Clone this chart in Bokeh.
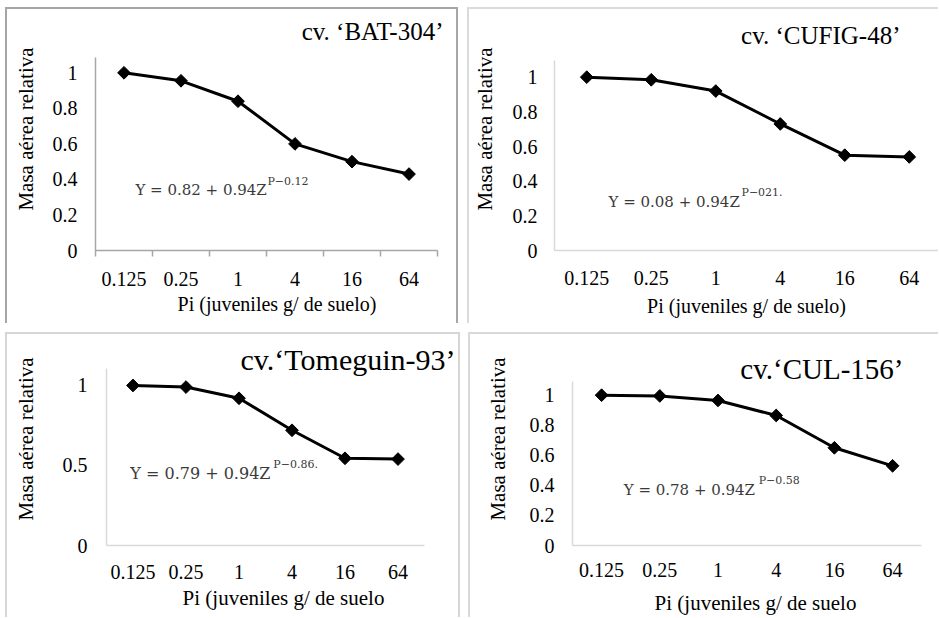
import math
from bokeh.plotting import figure
from bokeh.models import FixedTicker, NumeralTickFormatter, Label, Range1d
from bokeh.layouts import row, column
from bokeh.embed import file_html
from bokeh.resources import INLINE

# ---------------- data ----------------
categories = ["0.125", "0.25", "1", "4", "16", "64"]

bat_304 = [1.0, 0.955, 0.84, 0.60, 0.50, 0.43]
cufig_48 = [1.0, 0.985, 0.92, 0.73, 0.55, 0.54]
tomeguin_93 = [1.0, 0.99, 0.92, 0.72, 0.545, 0.54]
cul_156 = [1.0, 0.995, 0.965, 0.865, 0.65, 0.53]

titles = ["cv. \u2018BAT-304\u2019", "cv. \u2018CUFIG-48\u2019",
          "cv.\u2018Tomeguin-93\u2019", "cv.\u2018CUL-156\u2019"]
eq_main = ["Y = 0.82 + 0.94Z", "Y = 0.08 + 0.94Z",
           "Y = 0.79 + 0.94Z", "Y = 0.78 + 0.94Z"]
eq_sup = ["P\u22120.12", "P\u2212021.", "P\u22120.86.", "P\u22120.58"]
x_titles = ["Pi (juveniles g/ de suelo)", "Pi (juveniles g/ de suelo)",
            "Pi (juveniles g/ de suelo", "Pi (juveniles g/ de suelo"]
y_title = "Masa a\u00e9rea relativa"
yticks_fine = [0, 0.2, 0.4, 0.6, 0.8, 1]
yticks_coarse = [0, 0.5, 1]

SERIF = "Liberation Serif"
EQ_FONT = "DejaVu Serif"

xs = [i + 0.5 for i in range(len(categories))]
bounds = list(range(len(categories) + 1))


def shadow(color, sides):
    parts = []
    if "l" in sides:
        parts.append(f"inset 2px 0 0 {color}")
    if "t" in sides:
        parts.append(f"inset 0 2px 0 {color}")
    if "r" in sides:
        parts.append(f"inset -2px 0 0 {color}")
    return ", ".join(parts)


def panel(values, title, main, sup, xtitle, yticks, c):
    p = figure(width=c["w"], height=c["h"], output_backend="svg",
               toolbar_location=None, title=None,
               x_range=Range1d(0, c["xend"]), y_range=Range1d(0, c["yend"]),
               min_border_left=c["mbl"], min_border_right=0,
               min_border_top=0, min_border_bottom=c["mbb"],
               styles={"box-shadow": shadow(c["border"], c["sides"])})
    p.border_fill_color = None
    p.background_fill_color = None
    p.outline_line_color = None
    p.xgrid.visible = False
    p.ygrid.visible = False

    for ax in (p.xaxis[0], p.yaxis[0]):
        ax.axis_line_color = c["axis"]
        ax.axis_line_width = 1.5
        ax.major_tick_out = 0
        ax.major_tick_in = 0
        ax.minor_tick_in = 0
        ax.minor_tick_out = 0
        ax.major_label_text_font = SERIF
        ax.major_label_text_font_size = "20px"
        ax.major_label_text_color = "black"
        ax.axis_label_text_font = SERIF
        ax.axis_label_text_font_style = "normal"
        ax.axis_label_text_color = "black"

    xa = p.xaxis[0]
    xa.bounds = (0, len(categories))
    xa.ticker = FixedTicker(ticks=xs, minor_ticks=bounds if c["minor"] else [])
    xa.major_label_overrides = {x: lab for x, lab in zip(xs, categories)}
    if c["minor"]:
        xa.minor_tick_out = 6
        xa.minor_tick_line_color = c["axis"]
        xa.minor_tick_line_width = 1.5
    xa.major_label_standoff = c["xls"]
    xa.axis_label = xtitle
    xa.axis_label_text_font_size = c["xtf"]
    xa.axis_label_standoff = c["xts"]

    ya = p.yaxis[0]
    ya.bounds = (0, c["ytop"])
    ya.ticker = FixedTicker(ticks=yticks, minor_ticks=[])
    ya.formatter = NumeralTickFormatter(format="0.[0]")
    ya.major_label_standoff = c["yls"]
    ya.axis_label = y_title
    ya.axis_label_text_font_size = c["ytf"]
    ya.axis_label_standoff = c["yts"]

    p.line(xs, values, line_color="black", line_width=3)
    p.scatter(xs, values, marker="square", angle=math.pi / 4, size=9,
              fill_color="black", line_color="black")

    p.add_layout(Label(x=c["tx"], y=c["ty"], text=title, text_align="right",
                       text_baseline="middle", text_font=SERIF,
                       text_font_size=c["tf"], text_color="black"))
    p.add_layout(Label(x=c["ex"], y=c["ey"], text=main, text_align="left",
                       text_baseline="middle", text_font=EQ_FONT,
                       text_font_size=c["ef"], text_color="#3a3a3a"))
    p.add_layout(Label(x=c["ex"], y=c["ey"], x_offset=c["eo"], y_offset=9,
                       text=sup, text_align="left", text_baseline="middle",
                       text_font=EQ_FONT, text_font_size="11px",
                       text_color="#3a3a3a"))
    return p


cfg1 = dict(w=453, h=316, mbl=90, mbb=73, xend=6.368, yend=1.3675, ytop=1.086,
            border="#a6a6a6", sides="ltr", axis="#a6a6a6", minor=True,
            xls=15, xts=4, xtf="20px", yls=18, yts=12, ytf="21px",
            tx=6.105, ty=1.235, tf="25px", ex=0.70, ey=0.338, ef="15px", eo=132)
cfg2 = dict(w=471, h=316, mbl=87, mbb=72, xend=5.953, yend=1.402, ytop=1.098,
            border="#dadada", sides="lt", axis="#d9d9d9", minor=False,
            xls=20, xts=7, xtf="20px", yls=17, yts=13, ytf="21px",
            tx=5.364, ty=1.238, tf="25px", ex=0.837, ey=0.282, ef="15px", eo=133)
cfg3 = dict(w=455, h=285, mbl=101, mbb=72, xend=6.679, yend=1.331, ytop=1.106,
            border="#d6d6d6", sides="ltr", axis="#d9d9d9", minor=False,
            xls=19, xts=4, xtf="21px", yls=19, yts=22, ytf="21px",
            tx=6.585, ty=1.1625, tf="30px", ex=0.45, ey=0.45, ef="16px", eo=143)
cfg4 = dict(w=470, h=285, mbl=104, mbb=71, xend=6.289, yend=1.417, ytop=1.093,
            border="#d9d9d9", sides="lt", axis="#d9d9d9", minor=False,
            xls=17, xts=11, xtf="21px", yls=18, yts=17, ytf="21px",
            tx=5.687, ty=1.175, tf="29px", ex=0.88, ey=0.371, ef="15px", eo=135)

p1 = panel(bat_304, titles[0], eq_main[0], eq_sup[0], x_titles[0], yticks_fine, cfg1)
p2 = panel(cufig_48, titles[1], eq_main[1], eq_sup[1], x_titles[1], yticks_fine, cfg2)
p3 = panel(tomeguin_93, titles[2], eq_main[2], eq_sup[2], x_titles[2], yticks_coarse, cfg3)
p4 = panel(cul_156, titles[3], eq_main[3], eq_sup[3], x_titles[3], yticks_fine, cfg4)

layout = column(row(p1, p2, spacing=9), row(p3, p4, spacing=8), spacing=9,
                margin=(7, 0, 0, 5))

open("out.html", "w").write(file_html(layout, INLINE))
